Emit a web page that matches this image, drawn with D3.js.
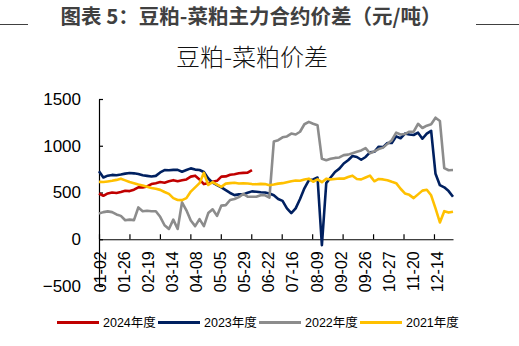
<!DOCTYPE html>
<html><head><meta charset="utf-8">
<script src="https://cdn.jsdelivr.net/npm/d3@7/dist/d3.min.js"></script>
<style>
html,body{margin:0;padding:0;background:#fff;}
svg{display:block;}
</style></head>
<body>
<svg id="c" width="519" height="346"></svg>
<script>
const xLabels = ["01-02","01-26","02-19","03-14","04-08","05-05","05-29","06-22","07-16","08-09","09-02","09-26","10-27","11-20","12-14"];
const yTicks = [-500, 0, 500, 1000, 1500];
const seriesNames = ["2024年度","2023年度","2022年度","2021年度"];
const seriesColors = ["#C00000","#002060","#8C8C8C","#FFC000"];

const s2024 = [489,465,490,500,495,505,518,515,530,555,555,565,590,600,612,605,620,632,620,630,640,670,680,640,590,600,615,625,670,672,690,695,705,710,712,740];
const s2023 = [728,660,680,688,685,692,702,708,705,698,685,678,672,678,715,739,738,742,742,722,740,758,745,740,720,650,605,580,555,525,495,472,480,480,498,512,508,502,500,490,470,430,410,330,280,330,430,545,630,640,660,-64,600,660,720,755,810,845,890,880,850,880,930,935,990,985,1030,1030,1100,1080,1130,1120,1115,1140,1075,1130,1160,700,578,555,515,455];
const s2022 = [275,290,298,290,265,250,203,210,205,340,300,305,300,300,240,150,110,210,110,395,310,200,140,215,140,280,320,250,360,365,420,430,450,485,455,455,455,470,470,445,1045,1060,1090,1100,1130,1120,1150,1230,1255,1235,1220,860,846,860,870,875,900,905,920,935,950,975,920,940,965,980,1020,1060,1140,1120,1125,1150,1150,1235,1190,1215,1230,1300,1265,760,738,740];
const s2021 = [614,612,618,625,635,648,630,612,600,585,575,562,548,540,528,505,485,440,420,418,440,510,555,600,710,580,610,585,560,595,600,605,596,598,596,590,588,592,590,578,585,595,600,610,620,628,625,640,648,615,640,610,648,640,645,650,648,665,680,645,640,660,680,620,645,640,630,614,600,540,490,475,440,480,520,530,470,330,180,300,285,295];

const nCategories = 279;   // category slots on the x axis
const sampleStep = nCategories / 81; // categories between stored samples
const labelEvery = 19;     // categories between labels
const tickEvery = 24;      // categories between tick marks

const svg = d3.select("#c");

// ---- titles ----
svg.append("text").attr("x", 251).attr("y", 24).attr("text-anchor","middle")
  .attr("font-family","'Noto Sans CJK SC','Noto Sans',sans-serif").attr("font-weight","bold")
  .attr("font-size", 20.5).attr("fill","#404040").text("图表 5：豆粕-菜粕主力合约价差（元/吨）");
svg.append("line").attr("x1",0).attr("x2",28).attr("y1",24.5).attr("y2",24.5).attr("stroke","#404040").attr("stroke-width",1);
svg.append("line").attr("x1",476).attr("x2",519).attr("y1",24.5).attr("y2",24.5).attr("stroke","#404040").attr("stroke-width",1);
svg.append("text").attr("x", 252).attr("y", 66).attr("text-anchor","middle")
  .attr("font-family","'Noto Sans CJK SC',sans-serif").attr("font-weight","300")
  .attr("font-size", 24).attr("fill","#111").text("豆粕-菜粕价差");

// ---- scales ----
const x = d3.scaleLinear().domain([0, nCategories]).range([99, 453]);
const y = d3.scaleLinear().domain([-500, 1500]).range([286, 99]);

// ---- y axis ----
const yAxis = d3.axisLeft(y).tickValues(yTicks).tickFormat(d3.format("d"))
  .tickSizeInner(-4).tickSizeOuter(0).tickPadding(18);
const gy = svg.append("g").attr("transform","translate(99,0)").call(yAxis);
gy.selectAll("text").attr("font-family","'Liberation Sans',Arial,sans-serif").attr("font-size",17).attr("fill","#000");
gy.selectAll("line,path").attr("stroke","#000").attr("stroke-width",1.2);

// ---- x axis at y=0 ----
const tickCats = d3.range(0, nCategories, tickEvery);
const xAxis = d3.axisBottom(x).tickValues(tickCats).tickSizeInner(-5).tickSizeOuter(0).tickFormat("");
const gx = svg.append("g").attr("transform",`translate(0,${y(0)})`).call(xAxis);
gx.selectAll("line,path").attr("stroke","#000").attr("stroke-width",1.2);

// x labels (rotated)
svg.append("g").selectAll("text").data(xLabels).join("text")
  .attr("transform",(d,i)=>`translate(${x(i*labelEvery)+1},${y(0)+12}) rotate(-90)`)
  .attr("text-anchor","end").attr("dy","0.35em")
  .attr("font-family","'Liberation Sans',Arial,sans-serif").attr("font-size",16).attr("fill","#000")
  .text(d=>d);

// ---- lines ----
const allSeries = [s2024, s2023, s2022, s2021];
const line = d3.line().x((d,i)=>x(i*sampleStep)).y(d=>y(d));
svg.append("g").selectAll("path").data(allSeries).join("path")
  .attr("d", d=>line(d)).attr("fill","none")
  .attr("stroke",(d,i)=>seriesColors[i]).attr("stroke-width",2.6)
  .attr("stroke-linejoin","round");

// ---- legend ----
const lg = svg.append("g").selectAll("g").data(seriesNames).join("g")
  .attr("transform",(d,i)=>`translate(${57+i*101},322.5)`);
lg.append("line").attr("x1",0).attr("x2",42).attr("y1",0).attr("y2",0)
  .attr("stroke",(d,i)=>seriesColors[i]).attr("stroke-width",3);
lg.append("text").attr("x",46).attr("y",0).attr("dy","0.36em")
  .attr("font-family","'Liberation Sans','Noto Sans CJK SC',sans-serif").attr("font-size",12.5).attr("fill","#000")
  .text(d=>d);
</script>
</body></html>
